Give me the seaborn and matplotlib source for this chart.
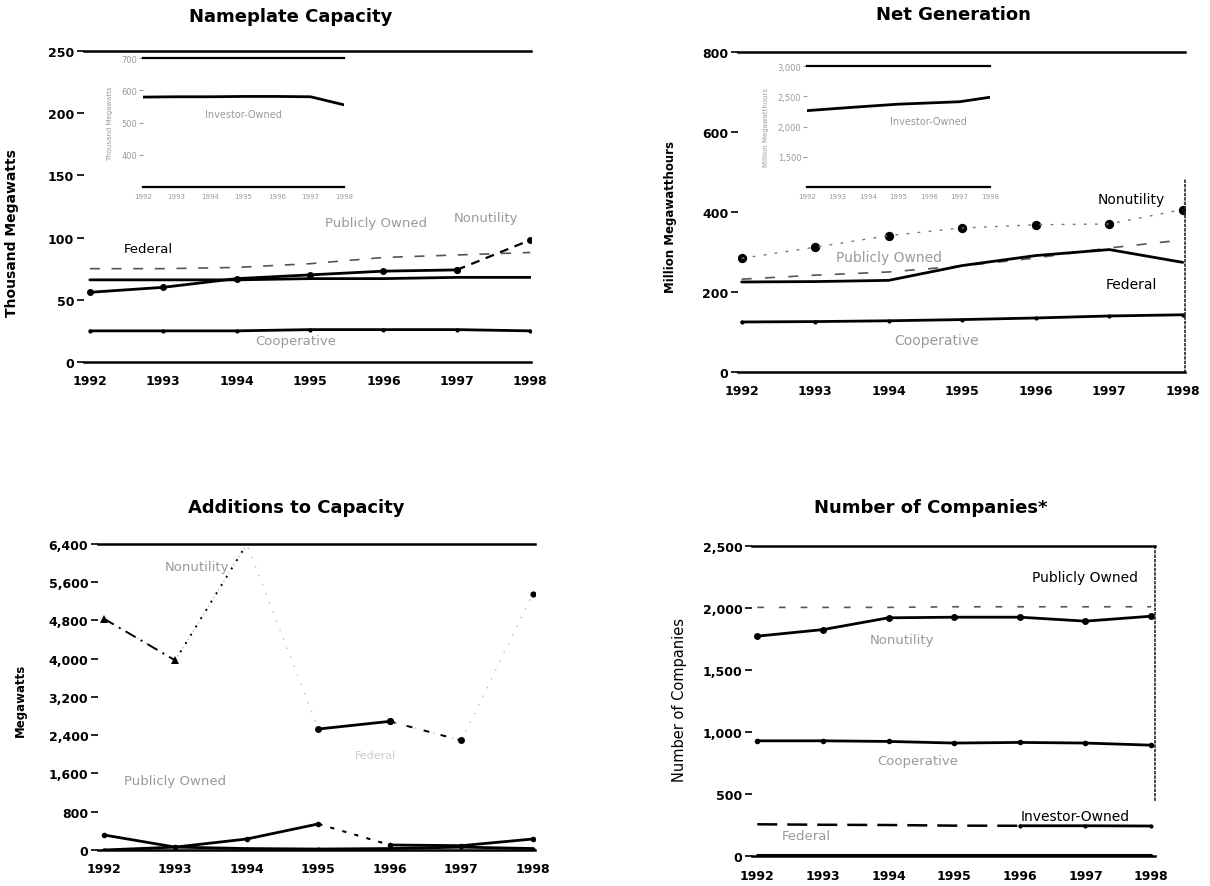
import matplotlib
matplotlib.use("Agg")
import matplotlib.pyplot as plt
import seaborn as sns

# ================= DATA =================
YEARS = [1992, 1993, 1994, 1995, 1996, 1997, 1998]
YEAR_LABELS = [str(y) for y in YEARS]

# Nameplate capacity (thousand megawatts)
cap_nonutility = [56, 60, 67, 70, 73, 74, 98]
cap_federal = [66, 66, 66, 67, 67, 68, 68]
cap_public = [75, 75, 76, 79, 84, 86, 88]
cap_coop = [25, 25, 25, 26, 26, 26, 25]
cap_investor = [579, 580, 580, 581, 581, 580, 555]      # inset

# Net generation (million megawatthours)
gen_nonutility = [284, 312, 341, 360, 368, 370, 406]
gen_federal = [225, 226, 229, 266, 291, 306, 274]
gen_public = [232, 242, 250, 265, 285, 310, 330]
gen_coop = [125, 126, 128, 131, 135, 140, 143]
gen_investor = [2263, 2300, 2336, 2370, 2390, 2410, 2484]  # inset

# Additions to capacity (megawatts)
add_nonutility = [4840, 3965, 6400, 2530, 2690, 2290, 5360]
add_public = [315, 60, 230, 545, 105, 90, 230]
add_coop = [0, 60, 30, 20, 30, 60, 30]

# Number of companies
comp_nonutility = [1773, 1826, 1921, 1926, 1926, 1894, 1934]
comp_public = [2005, 2005, 2005, 2010, 2010, 2010, 2010]
comp_coop = [929, 929, 924, 911, 916, 911, 894]
comp_investor = [256, 252, 250, 245, 244, 244, 242]
comp_federal = [6, 6, 6, 6, 6, 6, 6]

FAINT = "#9a9a9a"

sns.set_style("white")
plt.rcParams['font.family'] = ['DejaVu Sans']
plt.rcParams.update({"text.color": "black", "axes.labelcolor": "black",
                     "xtick.color": "black", "ytick.color": "black"})


# ================= HELPERS =================
def draw(ax, values, ls="-", lw=2.0, color="black", marker=None, ms=4,
         start=1992, end=1998):
    # draw a series (or the part of it between start and end)
    xs = [y for y in YEARS if start <= y <= end]
    ys = [v for y, v in zip(YEARS, values) if start <= y <= end]
    sns.lineplot(x=xs, y=ys, ax=ax, color=color, linestyle=ls, linewidth=lw,
                 marker=marker, markersize=ms, markeredgewidth=0)


def style_main(ax, xlim, ylim, yticks, ylabels, ylabel, label_xy, ylab_size, ylab_weight):
    ax.set_xlim(*xlim)
    ax.set_ylim(*ylim)
    ax.set_xticks(YEARS)
    ax.set_xticklabels(YEAR_LABELS, fontsize=9, fontweight="bold")
    ax.set_yticks(yticks)
    ax.set_yticklabels(ylabels, fontsize=9, fontweight="bold")
    ax.tick_params(axis="x", bottom=False, length=0, pad=9)
    ax.tick_params(axis="y", left=True, length=5, width=1.2, pad=2, direction="out")
    for s in ["left", "right"]:
        ax.spines[s].set_visible(False)
    for s in ["top", "bottom"]:
        ax.spines[s].set_linewidth(1.8)
        ax.spines[s].set_color("black")
    ax.set_ylabel(ylabel, fontsize=ylab_size, fontweight=ylab_weight)
    ax.yaxis.set_label_coords(*label_xy)
    ax.yaxis.label.set_verticalalignment("center")


def style_inset(ax, ylim, yticks, ylabels, ylabel):
    ax.set_xlim(1992, 1998)
    ax.set_ylim(*ylim)
    ax.set_xticks(YEARS)
    ax.set_xticklabels(YEAR_LABELS, fontsize=5, color=FAINT)
    ax.set_yticks(yticks)
    ax.set_yticklabels(ylabels, fontsize=6, color=FAINT)
    ax.tick_params(axis="x", bottom=False, length=0, pad=4)
    ax.tick_params(axis="y", left=True, length=3, width=0.8, pad=1, color=FAINT)
    ax.patch.set_alpha(0)
    for s in ["left", "right"]:
        ax.spines[s].set_visible(False)
    for s in ["top", "bottom"]:
        ax.spines[s].set_linewidth(1.6)
        ax.spines[s].set_color("black")
    ax.set_ylabel(ylabel, fontsize=5, color=FAINT, labelpad=6)


fig = plt.figure(figsize=(12.1, 8.87), dpi=100)

# ================= NAMEPLATE CAPACITY =================
ax1 = fig.add_axes([0.0694, 0.5908, 0.3694, 0.3506])
draw(ax1, cap_public, ls=(0, (6, 7)), lw=1.2, color="#555555")
draw(ax1, cap_federal, lw=2.0)
draw(ax1, cap_nonutility, lw=2.0, marker="o", ms=5, end=1997)
draw(ax1, cap_nonutility, ls=(0, (4, 3)), lw=1.6, marker="o", ms=5, start=1997)
draw(ax1, cap_coop, lw=2.0, marker="o", ms=3)
style_main(ax1, (1991.92, 1998.01), (0, 250), [0, 50, 100, 150, 200, 250],
           ["0", "50", "100", "150", "200", "250"], "Thousand Megawatts",
           (-0.161, 0.418), 10, "bold")
ax1.text(1992.8, 91, "Federal", ha="center", va="center", fontsize=9.5)
ax1.text(1994.8, 17, "Cooperative", ha="center", va="center", fontsize=9.5, color=FAINT)
ax1.text(1995.9, 112, "Publicly Owned", ha="center", va="center", fontsize=9.5, color=FAINT)
ax1.text(1997.4, 116, "Nonutility", ha="center", va="center", fontsize=9.5, color=FAINT)

in1 = fig.add_axes([0.1182, 0.7880, 0.1661, 0.1454])
draw(in1, cap_investor, lw=2.0)
style_inset(in1, (300, 700), [400, 500, 600, 700], ["400", "500", "600", "700"],
            "Thousand Megawatts")
in1.text(1995.0, 528, "Investor-Owned", ha="center", va="center", fontsize=7, color=FAINT)

# ================= NET GENERATION =================
ax2 = fig.add_axes([0.6099, 0.5795, 0.3694, 0.3608])
draw(ax2, gen_public, ls=(0, (6, 8)), lw=1.2, color="#555555")
draw(ax2, gen_nonutility, ls=(0, (2, 6)), lw=1.0, color="#777777")
sns.scatterplot(x=YEARS, y=gen_nonutility, ax=ax2, color="black", s=45, linewidth=0)
draw(ax2, gen_federal, lw=2.0)
draw(ax2, gen_coop, lw=2.0, marker="o", ms=3)
style_main(ax2, (1991.95, 1998.03), (0, 800), [0, 200, 400, 600, 800],
           ["0", "200", "400", "600", "800"], "Million Megawatthours",
           (-0.150, 0.4875), 8.5, "bold")
ax2.spines["right"].set_visible(True)
ax2.spines["right"].set_linestyle(":")
ax2.spines["right"].set_linewidth(1.2)
ax2.spines["right"].set_bounds(0, 480)
ax2.text(1997.3, 432, "Nonutility", ha="center", va="center", fontsize=10)
ax2.text(1994.0, 287, "Publicly Owned", ha="center", va="center", fontsize=10, color=FAINT)
ax2.text(1997.3, 220, "Federal", ha="center", va="center", fontsize=10)
ax2.text(1994.65, 79, "Cooperative", ha="center", va="center", fontsize=10, color=FAINT)

in2 = fig.add_axes([0.6669, 0.7880, 0.1512, 0.1364])
draw(in2, gen_investor, lw=2.0)
style_inset(in2, (1000, 3000), [1500, 2000, 2500, 3000],
            ["1,500", "2,000", "2,500", "3,000"], "Million Megawatthours")
in2.text(1996.0, 2090, "Investor-Owned", ha="center", va="center", fontsize=7, color=FAINT)

# ================= ADDITIONS TO CAPACITY =================
ax3 = fig.add_axes([0.0810, 0.0406, 0.3612, 0.3450])
# whole series faint (the scan lost most of it), clear parts on top
draw(ax3, add_nonutility, ls=(0, (1, 6)), lw=1.0, color="#bbbbbb")
draw(ax3, add_nonutility, ls=(0, (6, 3, 1, 3)), lw=1.4, marker="^", ms=6, end=1993)
draw(ax3, add_nonutility, ls=(0, (1, 4)), lw=1.4, start=1993, end=1994)
draw(ax3, add_nonutility, lw=2.0, marker="o", ms=5, start=1995, end=1996)
draw(ax3, add_nonutility, ls=(0, (3, 6)), lw=1.4, marker="o", ms=5, start=1996, end=1997)
sns.scatterplot(x=YEARS[-1:], y=add_nonutility[-1:], ax=ax3, color="black", s=20, linewidth=0)
draw(ax3, add_public, lw=2.0, marker="o", ms=4, end=1995)
draw(ax3, add_public, ls=(0, (2, 4)), lw=1.5, start=1995, end=1996)
draw(ax3, add_public, lw=2.0, marker="o", ms=4, start=1996)
draw(ax3, add_coop, lw=2.0, marker="o", ms=3)
add_ticks = [0, 800, 1600, 2400, 3200, 4000, 4800, 5600, 6400]
style_main(ax3, (1991.92, 1998.03), (0, 6400), add_ticks,
           [f"{v:,}" for v in add_ticks], "Megawatts",
           (-0.178, 0.493), 8.5, "bold")
ax3.text(1993.3, 5920, "Nonutility", ha="center", va="center", fontsize=9.5, color=FAINT)
ax3.text(1993.0, 1450, "Publicly Owned", ha="center", va="center", fontsize=9.5, color=FAINT)
ax3.text(1995.8, 1980, "Federal", ha="center", va="center", fontsize=8, color="#cccccc")

# ================= NUMBER OF COMPANIES =================
ax4 = fig.add_axes([0.6215, 0.0338, 0.3331, 0.3495])
draw(ax4, comp_public, ls=(0, (4, 9)), lw=1.2, color="#555555")
draw(ax4, comp_nonutility, lw=2.0, marker="o", ms=5)
draw(ax4, comp_coop, lw=2.0, marker="o", ms=4)
draw(ax4, comp_investor, ls=(0, (8, 4)), lw=1.8, end=1996)
draw(ax4, comp_investor, lw=2.0, marker="o", ms=3, start=1996)
draw(ax4, comp_federal, lw=2.2)
comp_ticks = [0, 500, 1000, 1500, 2000, 2500]
style_main(ax4, (1991.92, 1998.06), (0, 2500), comp_ticks,
           [f"{v:,}" for v in comp_ticks], "Number of Companies",
           (-0.181, 0.506), 10.5, "normal")
ax4.spines["right"].set_visible(True)
ax4.spines["right"].set_linestyle(":")
ax4.spines["right"].set_linewidth(1.2)
ax4.spines["right"].set_bounds(450, 2500)
ax4.text(1997.0, 2250, "Publicly Owned", ha="center", va="center", fontsize=10)
ax4.text(1994.2, 1745, "Nonutility", ha="center", va="center", fontsize=9.5, color=FAINT)
ax4.text(1994.45, 768, "Cooperative", ha="center", va="center", fontsize=9.5, color=FAINT)
ax4.text(1996.85, 323, "Investor-Owned", ha="center", va="center", fontsize=10)
ax4.text(1992.75, 162, "Federal", ha="center", va="center", fontsize=9.5, color=FAINT)

# ================= TITLES =================
W, H = 1210, 887
fig.text(291 / W, 1 - 17 / H, "Nameplate Capacity", ha="center", va="center",
         fontsize=13, fontweight="bold")
fig.text(953 / W, 1 - 15 / H, "Net Generation", ha="center", va="center",
         fontsize=13, fontweight="bold")
fig.text(296 / W, 1 - 508 / H, "Additions to Capacity", ha="center", va="center",
         fontsize=13, fontweight="bold")
fig.text(931 / W, 1 - 508 / H, "Number of Companies*", ha="center", va="center",
         fontsize=13, fontweight="bold")

fig.savefig("out.png", dpi=100)
